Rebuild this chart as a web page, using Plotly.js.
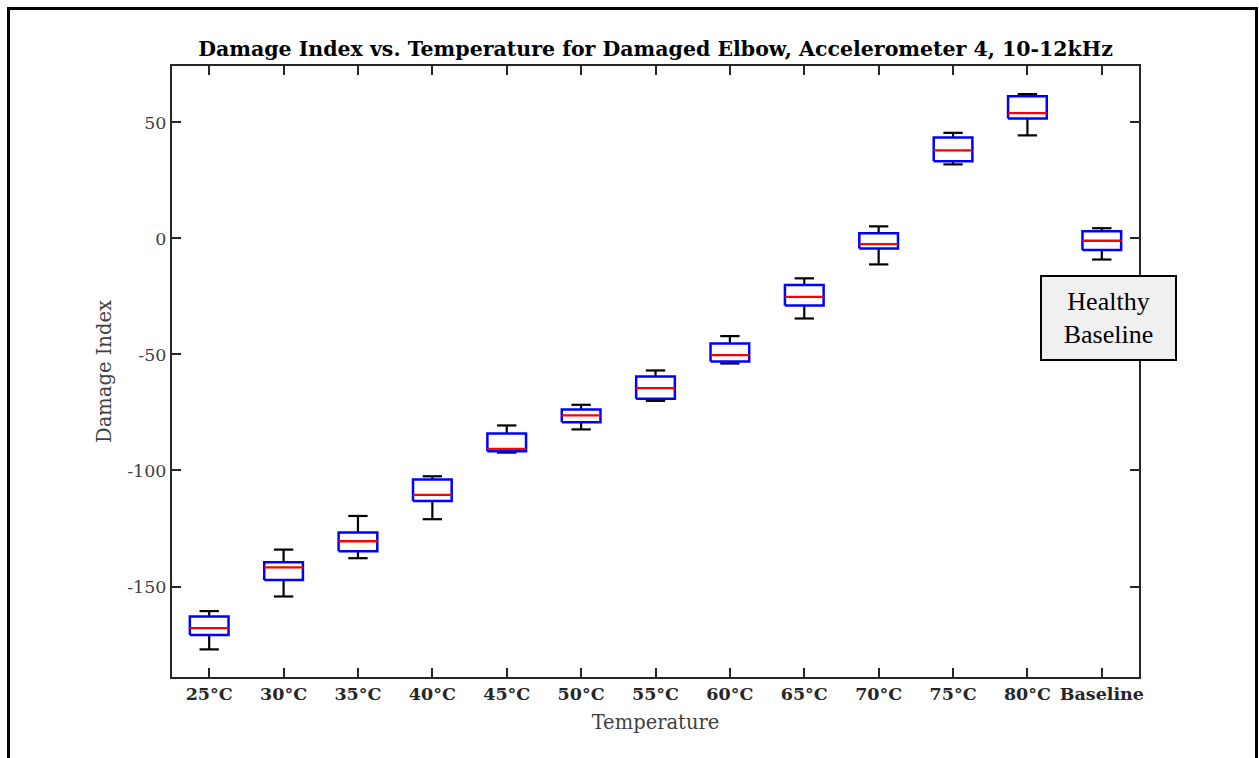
<!DOCTYPE html>
<html>
<head>
<meta charset="utf-8">
<script src="https://cdn.plot.ly/plotly-3.0.1.min.js"></script>
<style>
  html, body { margin: 0; padding: 0; background: #ffffff; }
  #wrap { position: relative; width: 1259px; height: 758px; overflow: hidden; }
  #chart { position: absolute; left: 0; top: 0; width: 1259px; height: 758px; }
  #frame { position: absolute; left: 7px; top: 7px; width: 1251px; height: 820px;
           box-sizing: border-box; border: 3px solid #000; pointer-events: none; }
</style>
</head>
<body>
<div id="wrap">
  <div id="chart"></div>
  <div id="frame"></div>
</div>
<script>
// Temperature groups and box-plot statistics of the damage index
const categories = ['25°C', '30°C', '35°C', '40°C', '45°C', '50°C', '55°C',
                    '60°C', '65°C', '70°C', '75°C', '80°C', 'Baseline'];
const whiskerHigh   = [-160.6, -134.1, -119.6, -102.5, -80.6, -71.7, -56.9, -42.1, -17.2,  5.2, 45.5, 62.2,  4.4];
const upperQuartile = [-162.9, -139.5, -126.7, -103.9, -84.1, -73.7, -59.5, -45.3, -20.1,  2.2, 43.5, 61.3,  3.1];
const medians       = [-167.9, -141.8, -130.5, -110.5, -90.7, -76.3, -64.5, -50.3, -25.2, -2.5, 37.9, 54.0, -1.0];
const lowerQuartile = [-170.9, -147.2, -134.8, -113.2, -91.7, -79.2, -69.1, -53.0, -28.9, -4.3, 33.2, 51.7, -5.0];
const whiskerLow    = [-177.1, -154.3, -137.8, -121.0, -92.3, -82.3, -70.0, -53.9, -34.5, -11.2, 31.9, 44.4, -9.1];
const yTicks = [-150, -100, -50, 0, 50];

const BOX_HALF = 0.26;   // half width of each box, in category units
const CAP_HALF = 0.13;   // half width of whisker caps

const positions = categories.map((_, i) => i);

const wx = [], wy = [], bx = [], by = [], mx = [], my = [];
positions.forEach((p, i) => {
  // whisker stems and caps
  wx.push(p, p, null, p, p, null, p - CAP_HALF, p + CAP_HALF, null, p - CAP_HALF, p + CAP_HALF, null);
  wy.push(upperQuartile[i], whiskerHigh[i], null, lowerQuartile[i], whiskerLow[i], null,
          whiskerHigh[i], whiskerHigh[i], null, whiskerLow[i], whiskerLow[i], null);
  // interquartile box outline
  bx.push(p - BOX_HALF, p + BOX_HALF, p + BOX_HALF, p - BOX_HALF, p - BOX_HALF, null);
  by.push(lowerQuartile[i], lowerQuartile[i], upperQuartile[i], upperQuartile[i], lowerQuartile[i], null);
  // median bar
  mx.push(p - BOX_HALF, p + BOX_HALF, null);
  my.push(medians[i], medians[i], null);
});

const axisColor = '#262626';
const serif = 'DejaVu Serif, serif';

const traces = [
  { type: 'scatter', mode: 'lines', x: wx, y: wy, hoverinfo: 'skip',
    line: { color: '#000000', width: 2.2 }, showlegend: false },
  { type: 'scatter', mode: 'lines', x: bx, y: by, hoverinfo: 'skip',
    line: { color: '#0000ff', width: 2.5 }, showlegend: false },
  { type: 'scatter', mode: 'lines', x: mx, y: my, hoverinfo: 'skip',
    line: { color: '#ff0000', width: 2.3 }, showlegend: false }
];

const layout = {
  width: 1259, height: 758,
  margin: { l: 172, r: 120, t: 66, b: 81 },
  paper_bgcolor: '#ffffff', plot_bgcolor: '#ffffff',
  showlegend: false,
  title: {
    text: 'Damage Index vs. Temperature for Damaged Elbow, Accelerometer 4, 10-12kHz',
    font: { family: serif, size: 20.5, weight: 700, color: '#000000' },
    xref: 'paper', x: 0.5, xanchor: 'center',
    yref: 'container', y: 1 - 49 / 758, yanchor: 'middle'
  },
  xaxis: {
    range: [-0.5, 12.5],
    tickmode: 'array', tickvals: positions, ticktext: categories,
    ticks: 'inside', ticklen: 9, tickwidth: 2, tickcolor: axisColor,
    showline: true, linewidth: 2, linecolor: axisColor, mirror: 'ticks',
    showgrid: false, zeroline: false,
    tickfont: { family: serif, size: 17.5, weight: 700, color: axisColor },
    title: { text: 'Temperature', standoff: 12,
             font: { family: serif, size: 19.5, color: '#404040' } }
  },
  yaxis: {
    range: [-189.0, 74.3],
    tickmode: 'array', tickvals: yTicks, ticktext: yTicks.map(String),
    ticks: 'inside', ticklen: 9, tickwidth: 2, tickcolor: axisColor,
    showline: true, linewidth: 2, linecolor: axisColor, mirror: 'ticks',
    showgrid: false, zeroline: false,
    tickfont: { family: serif, size: 17.5, color: '#404040' },
    title: { text: 'Damage Index', standoff: 10,
             font: { family: serif, size: 19.5, color: '#404040' } }
  },
  annotations: [{
    text: 'Healthy<br>Baseline',
    xref: 'paper', yref: 'paper',
    x: (1108.5 - 172) / 967, y: (677 - 318) / 611,
    xanchor: 'center', yanchor: 'middle', showarrow: false,
    font: { family: 'Liberation Serif, Times New Roman, serif', size: 26, color: '#000000' },
    bgcolor: '#f0f0f0', bordercolor: '#000000', borderwidth: 2, borderpad: 0,
    width: 133, height: 82, align: 'center', valign: 'middle'
  }]
};

Plotly.newPlot('chart', traces, layout, { staticPlot: true, displayModeBar: false });
</script>
</body>
</html>
